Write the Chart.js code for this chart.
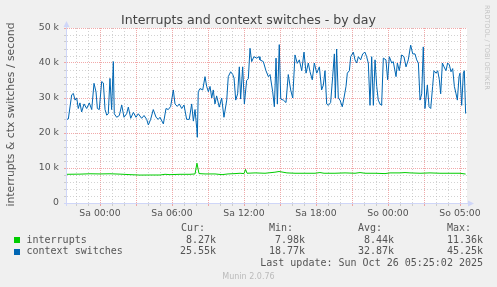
<!DOCTYPE html>
<html><head><meta charset="utf-8">
<script src="https://cdn.jsdelivr.net/npm/chart.js@4/dist/chart.umd.min.js"></script>
<style>html,body{margin:0;padding:0;background:#f0f0f0;overflow:hidden}#wrap{position:relative;width:497px;height:287px}canvas{display:block}</style>
</head><body><div id="wrap"><canvas id="c" width="497" height="287"></canvas></div>
<script>
// ---- text ----
const chartTitle = "Interrupts and context switches - by day";
const yAxisTitle = "interrupts & ctx switches / second";
const xTickPositions = [0, 6, 12, 18, 24, 30]; // hours since Sa 00:00
const xTickLabels = ["Sa 00:00", "Sa 06:00", "Sa 12:00", "Sa 18:00", "So 00:00", "So 05:00"];
const yTickPositions = [0, 10000, 20000, 30000, 40000, 50000];
const yTickLabels = ["0", "10 k", "20 k", "30 k", "40 k", "50 k"];
const seriesNames = ["interrupts", "context switches"];
const seriesColors = ["#00cc00", "#0066b3"];
const statHeaders = ["Cur:", "Min:", "Avg:", "Max:"];
const interruptStats = ["8.27k", "7.98k", "8.44k", "11.36k"];
const ctxStats = ["25.55k", "18.77k", "32.87k", "45.25k"];
const lastUpdate = "Last update: Sun Oct 26 05:25:02 2025";
const footerText = "Munin 2.0.76";
const watermark = "RRDTOOL / TOBI OETIKER";

// ---- data (x = hours since Sa 00:00) ----
const ctxTimes = [-2.78,-2.64,-2.36,-2.22,-2.08,-1.94,-1.81,-1.67,-1.53,-1.33,-1.11,-0.89,-0.69,-0.5,-0.33,-0.22,-0.06,0.14,0.28,0.42,0.56,0.69,0.83,0.97,1.11,1.19,1.39,1.61,1.81,2.0,2.22,2.36,2.56,2.78,3.0,3.19,3.47,3.67,3.89,4.03,4.22,4.44,4.67,4.86,5.0,5.28,5.5,5.69,5.89,6.11,6.25,6.44,6.61,6.81,7.0,7.22,7.44,7.64,7.78,7.92,8.06,8.11,8.19,8.33,8.56,8.75,8.89,9.03,9.17,9.31,9.44,9.58,9.72,9.94,10.14,10.33,10.56,10.69,10.89,11.06,11.17,11.31,11.47,11.61,11.72,11.89,12.03,12.22,12.36,12.5,12.64,12.83,13.06,13.25,
13.33,13.61,13.83,14.03,14.17,14.39,14.53,14.67,14.78,14.94,15.06,15.28,15.5,15.69,15.89,16.06,16.25,16.44,16.61,16.81,17.0,17.17,17.36,17.5,17.69,17.86,18.06,18.28,18.47,18.61,18.75,18.89,19.03,19.22,19.39,19.53,19.61,19.72,19.86,20.0,20.19,20.33,20.5,20.61,20.78,20.89,21.11,21.25,21.39,21.53,21.72,21.89,22.08,22.22,22.36,22.5,22.64,22.78,22.92,23.06,23.19,23.33,23.47,23.61,23.83,23.97,24.11,24.31,24.44,24.67,24.78,24.94,25.14,25.33,25.5,25.69,25.89,26.06,26.25,26.39,26.53,26.67,26.81,26.94,27.08,27.28,27.42,27.56,27.72,27.83,28.0,28.14,28.28,28.39,28.53,28.67,28.83,28.97,29.11,29.25,29.39,29.53,29.67,29.78,29.92,30.0,30.14,30.28,30.36,30.47];
const ctxValues = [23900,24000,30900,31300,29400,30000,27000,28600,26000,28300,27000,28600,26700,34200,31700,27000,26700,34700,34300,26700,25100,25500,35600,26700,40400,25500,24500,25000,28000,24500,25500,27400,24200,25900,24500,25500,24200,25000,23900,22300,23900,26700,24500,23900,24500,22600,27000,26700,27600,32300,28300,27600,28300,27000,28000,23900,23900,28300,23400,26700,21300,18770,31800,32700,32300,36100,33300,31800,33300,30000,32300,28300,30600,27400,30000,24500,29400,36100,37500,36700,35700,29400,31200,38900,29700,38900,28300,35000,35500,44200,40400,41800,41400,41800,
40900,40400,37800,36100,36700,31800,27500,41400,28300,45250,29700,29400,28700,36700,32300,30000,42300,39900,40900,37800,43100,37100,40000,37500,35200,40000,37100,38900,32300,33700,37800,28300,27900,28700,36100,42600,30000,44000,30000,29400,27500,30000,33300,37100,37800,41800,43100,40900,40000,41800,40900,42600,43100,41800,40000,27900,41800,27900,40900,33300,29400,28300,27900,41400,40900,35200,41800,40000,40400,36100,40000,37800,42300,41800,38900,40900,45100,42600,42600,40900,40000,29400,31200,44600,27000,33700,27500,27000,33300,37800,37100,37800,35200,31200,40000,38900,37800,40000,39500,37500,38400,33300,31200,29400,36100,37100,27900,37100,37800,25550];
const intTimes = [-2.78,-1.67,-0.83,0,0.83,1.67,2.5,3.33,4.17,5,5.42,5.83,6.67,7.5,7.92,8.08,8.25,8.75,9.58,10.17,10.67,11.25,11.67,12.0,12.13,12.25,12.92,13.75,14.58,14.92,15.25,15.58,16.25,17.08,17.92,18.33,18.67,19.58,20.42,21.25,21.67,22.08,22.92,23.75,24.17,25.0,25.42,25.83,26.67,27.5,28.33,29.17,30.0,30.47];
const intValues = [8200,8250,8350,8300,8350,8250,8100,7980,8000,8000,8200,8100,8200,8200,8300,11360,8400,8300,8300,8100,8300,8400,8500,8400,9600,8500,8600,8500,8800,9000,8800,8600,8500,8500,8500,8700,8500,8500,8600,8500,8700,8500,8500,8400,8600,8600,8700,8600,8500,8600,8500,8500,8500,8270];

// ---- styles ----
const BG = "#f0f0f0", AXIS = "#cfd6f8", MAJOR = "rgba(236,140,140,0.75)", MINOR = "rgba(180,180,180,0.6)", FONT = "#555555";
const SANS = "'DejaVu Sans', sans-serif", MONO = "'DejaVu Sans Mono', monospace";

const toXY = (xs, ys) => xs.map((x, i) => ({ x: x, y: ys[i] }));

const decor = {
  id: 'decor',
  beforeDraw(chart) {
    const c = chart.ctx, a = chart.chartArea;
    c.save();
    c.fillStyle = BG; c.fillRect(0, 0, chart.width, chart.height);
    c.fillStyle = '#ffffff'; c.fillRect(a.left, a.top, a.right - a.left, a.bottom - a.top);
    c.restore();
  },
  afterDatasetsDraw(chart) {
    const c = chart.ctx, a = chart.chartArea;
    c.save();
    c.strokeStyle = AXIS; c.fillStyle = AXIS; c.lineWidth = 1;
    c.beginPath();
    c.moveTo(a.left - 0.5, a.bottom + 3); c.lineTo(a.left - 0.5, a.top - 3);
    c.moveTo(a.left - 3, a.bottom + 0.5); c.lineTo(a.right + 3, a.bottom + 0.5);
    c.stroke();
    c.beginPath();
    c.moveTo(a.left - 3.5, a.top - 1); c.lineTo(a.left + 2.5, a.top - 1); c.lineTo(a.left - 0.5, a.top - 7); c.closePath(); c.fill();
    c.beginPath();
    c.moveTo(a.right + 1, a.bottom - 2.5); c.lineTo(a.right + 1, a.bottom + 3.5); c.lineTo(a.right + 7, a.bottom + 0.5); c.closePath(); c.fill();
    c.restore();
  },
  afterDraw(chart) {
    const c = chart.ctx, a = chart.chartArea;
    c.save();
    c.fillStyle = '#444444'; c.font = "12.6px " + SANS; c.textAlign = 'center'; c.textBaseline = 'alphabetic';
    c.fillText(chartTitle, 248.5, 24);
    c.save();
    c.translate(11, (a.top + a.bottom) / 2 - 1);
    c.rotate(-Math.PI / 2);
    c.font = "10.8px " + SANS; c.fillStyle = FONT; c.textAlign = 'center'; c.textBaseline = 'middle';
    c.fillText(yAxisTitle, 0, 0);
    c.restore();
    c.save();
    c.translate(486.5, 5);
    c.rotate(Math.PI / 2);
    c.font = "6.6px " + SANS; c.fillStyle = '#c4c4c4'; c.textAlign = 'left'; c.textBaseline = 'middle';
    c.fillText(watermark, 0, 0);
    c.restore();
    c.font = "10px " + MONO; c.fillStyle = FONT; c.textBaseline = 'middle';
    const headX = [181, 269, 358, 447];
    const valX = [216, 305, 394, 483];
    c.textAlign = 'left';
    statHeaders.forEach((h, i) => c.fillText(h, headX[i], 228.5));
    const rows = [interruptStats, ctxStats];
    const rowY = [240, 251.7];
    seriesNames.forEach((n, r) => {
      c.fillStyle = seriesColors[r];
      c.fillRect(14, Math.round(rowY[r]) - 3, 6, 6);
      c.fillStyle = FONT; c.textAlign = 'left';
      c.fillText(n, 26.5, rowY[r]);
      c.textAlign = 'right';
      rows[r].forEach((v, i) => c.fillText(v, valX[i], rowY[r]));
    });
    c.textAlign = 'right';
    c.fillText(lastUpdate, 483, 263.5);
    c.font = "8px " + SANS; c.fillStyle = '#bbbbbb'; c.textAlign = 'center';
    c.fillText(footerText, 248.5, 277);
    c.restore();
  }
};

const xGridTicks = [];
for (let h = -2; h <= 30; h++) xGridTicks.push(h);
const yGridTicks = [];
for (let v = 0; v <= 50000; v += 2000) yGridTicks.push(v);

const isMajorX = ctx => ctx.tick && ctx.tick.value % 3 === 0;
const isMajorY = ctx => ctx.tick && ctx.tick.value % 10000 === 0;

new Chart(document.getElementById('c'), {
  type: 'line',
  data: {
    datasets: [
      { label: seriesNames[0], data: toXY(intTimes, intValues), borderColor: seriesColors[0], borderWidth: 1, pointRadius: 0, tension: 0, fill: false },
      { label: seriesNames[1], data: toXY(ctxTimes, ctxValues), borderColor: seriesColors[1], borderWidth: 1, pointRadius: 0, tension: 0, fill: false }
    ]
  },
  options: {
    responsive: false, animation: false, devicePixelRatio: 1,
    layout: { padding: { left: 0, top: 28, right: 30, bottom: 64 } },
    plugins: { legend: { display: false }, title: { display: false }, tooltip: { enabled: false } },
    scales: {
      x: {
        type: 'linear', min: -2.75, max: 30.5833,
        afterFit(s) { s.height = 20; },
        afterBuildTicks(s) { s.ticks = xGridTicks.map(v => ({ value: v })); },
        grid: {
          color: ctx => isMajorX(ctx) ? MAJOR : MINOR,
          tickColor: ctx => isMajorX(ctx) ? MAJOR : MINOR,
          lineWidth: 1, tickLength: 3, drawTicks: true
        },
        border: { display: false, dash: ctx => isMajorX(ctx) ? [1, 1] : [1, 2] },
        ticks: {
          autoSkip: false, maxRotation: 0, padding: 2, color: FONT,
          font: { family: SANS, size: 9.3 },
          callback: v => { const i = xTickPositions.indexOf(v); return i >= 0 ? xTickLabels[i] : ''; }
        }
      },
      y: {
        min: 0, max: 50000,
        afterFit(s) { s.width = 67; },
        afterBuildTicks(s) { s.ticks = yGridTicks.map(v => ({ value: v })); },
        grid: {
          color: ctx => isMajorY(ctx) ? MAJOR : MINOR,
          tickColor: ctx => isMajorY(ctx) ? MAJOR : MINOR,
          lineWidth: 1, tickLength: 3, drawTicks: true
        },
        border: { display: false, dash: ctx => isMajorY(ctx) ? [1, 1] : [1, 2] },
        ticks: {
          autoSkip: false, padding: 5, color: FONT,
          font: { family: SANS, size: 9.3 },
          callback: v => { const i = yTickPositions.indexOf(v); return i >= 0 ? yTickLabels[i] : ''; }
        }
      }
    }
  },
  plugins: [decor]
});
</script>
</body></html>
